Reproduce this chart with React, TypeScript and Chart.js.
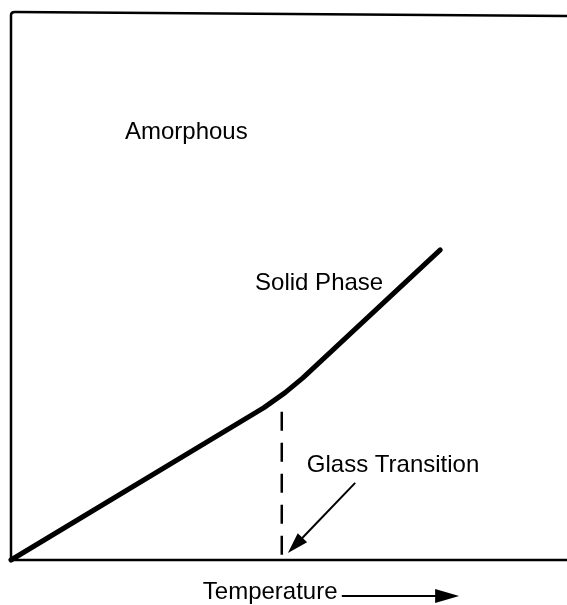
import React, { useEffect, useRef } from "react";
import { Chart, registerables } from "chart.js";
Chart.register(...registerables);

// Main curve (specific volume vs temperature, arbitrary units)
const curveX = [0, 45.5, 49.3, 52.5, 77.2];
const curveY = [0, 27.85, 30.6, 33.3, 56.7];
// Glass transition marker (dashed vertical)
const glassX = [48.7, 48.7];
const glassY = [27.1, 0.4];
// Text labels (data coordinates)
const labelTexts = ["Amorphous", "Solid Phase", "Glass Transition", "Temperature"];
const labelX = [20.5, 43.9, 53.2, 34.5];
const labelY = [77.0, 49.4, 16.1, -7.2];
// Arrows: [tail, tip]
const glassArrowX = [61.9, 49.8];
const glassArrowY = [14.1, 1.3];
const tempArrowX = [59.5, 80.6];
const tempArrowY = [-6.6, -6.6];

function drawArrow(ctx: CanvasRenderingContext2D, x1: number, y1: number, x2: number, y2: number, headLen: number, halfW: number, lw: number) {
  const dx = x2 - x1, dy = y2 - y1;
  const len = Math.hypot(dx, dy);
  const ux = dx / len, uy = dy / len;
  const bx = x2 - ux * headLen, by = y2 - uy * headLen;
  ctx.save();
  ctx.strokeStyle = "#000";
  ctx.fillStyle = "#000";
  ctx.lineWidth = lw;
  ctx.beginPath();
  ctx.moveTo(x1, y1);
  ctx.lineTo(bx + ux * 2, by + uy * 2);
  ctx.stroke();
  ctx.beginPath();
  ctx.moveTo(x2, y2);
  ctx.lineTo(bx - uy * halfW, by + ux * halfW);
  ctx.lineTo(bx + uy * halfW, by - ux * halfW);
  ctx.closePath();
  ctx.fill();
  ctx.restore();
}

const annotPlugin = {
  id: "annot",
  afterDatasetsDraw(chart: any) {
    const ctx: CanvasRenderingContext2D = chart.ctx;
    const xs = chart.scales.x;
    const ys = chart.scales.y;
    const a = chart.chartArea;
    // frame: left, top, bottom
    ctx.save();
    ctx.strokeStyle = "#000";
    ctx.lineWidth = 2.5;
    ctx.lineJoin = "round";
    ctx.beginPath();
    ctx.moveTo(a.right + 2, a.bottom);
    ctx.lineTo(a.left, a.bottom);
    ctx.lineTo(a.left, a.top + 2);
    ctx.quadraticCurveTo(a.left, a.top - 1, a.left + 4, a.top - 1);
    ctx.lineTo(a.right + 2, a.top + 3);
    ctx.stroke();
    ctx.restore();

    // labels
    ctx.save();
    ctx.fillStyle = "#000";
    ctx.font = "24px 'Liberation Sans', Arial, sans-serif";
    ctx.textAlign = "left";
    ctx.textBaseline = "alphabetic";
    for (let i = 0; i < labelTexts.length; i++) {
      ctx.fillText(labelTexts[i], xs.getPixelForValue(labelX[i]), ys.getPixelForValue(labelY[i]));
    }
    ctx.restore();

    drawArrow(ctx,
      xs.getPixelForValue(glassArrowX[0]), ys.getPixelForValue(glassArrowY[0]),
      xs.getPixelForValue(glassArrowX[1]), ys.getPixelForValue(glassArrowY[1]), 21, 6.5, 2);
    drawArrow(ctx,
      xs.getPixelForValue(tempArrowX[0]), ys.getPixelForValue(tempArrowY[0]),
      xs.getPixelForValue(tempArrowX[1]), ys.getPixelForValue(tempArrowY[1]), 24, 7, 2);
  },
};

export default function App() {
  const ref = useRef<HTMLCanvasElement | null>(null);
  useEffect(() => {
    if (!ref.current) return;
    const chart = new Chart(ref.current, {
      type: "scatter",
      data: {
        datasets: [
          {
            data: curveX.map((x, i) => ({ x, y: curveY[i] })),
            showLine: true,
            borderColor: "#000",
            borderWidth: 5,
            pointRadius: 0,
            tension: 0,
            borderCapStyle: "round",
            borderJoinStyle: "round",
            clip: false,
          } as any,
          {
            data: glassX.map((x, i) => ({ x, y: glassY[i] })),
            showLine: true,
            borderColor: "#000",
            borderWidth: 2.5,
            borderDash: [19, 12],
            pointRadius: 0,
            clip: false,
          } as any,
        ],
      },
      options: {
        animation: false,
        responsive: false,
        maintainAspectRatio: false,
        layout: { padding: { left: 11, top: 13, right: 0, bottom: 45 } },
        plugins: { legend: { display: false }, tooltip: { enabled: false } },
        scales: {
          x: { type: "linear", min: 0, max: 100, display: false },
          y: { type: "linear", min: 0, max: 100, display: false },
        },
      },
      plugins: [annotPlugin],
    });
    return () => chart.destroy();
  }, []);
  return (
    <div style={{ position: "absolute", left: 0, top: 0, width: 567, height: 605, background: "#fff" }}>
      <canvas ref={ref} width={567} height={605} />
    </div>
  );
}
